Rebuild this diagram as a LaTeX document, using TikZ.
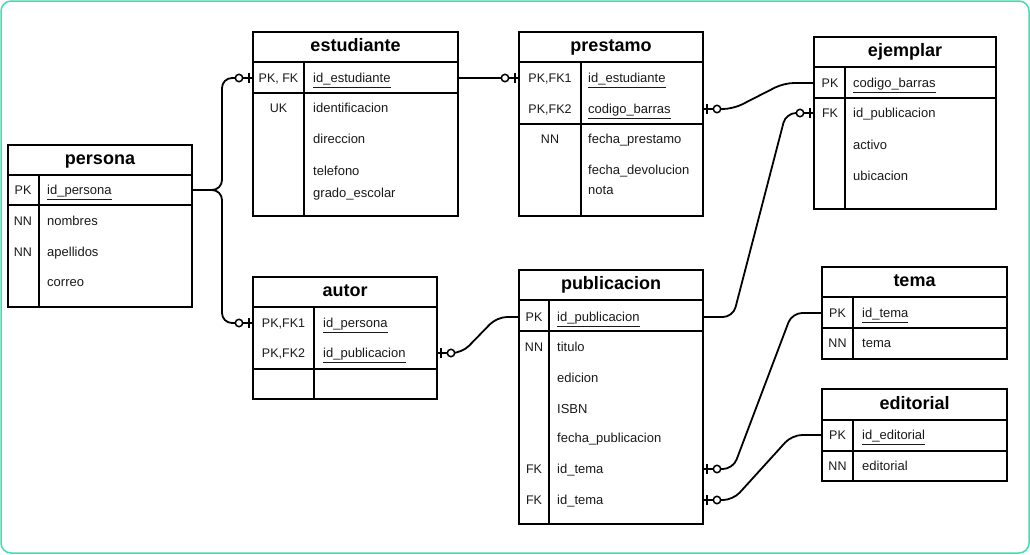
\documentclass[tikz,border=0pt]{standalone}
\usepackage{fontspec}
\setmainfont{Liberation Sans}
\usepackage{tikz}
\usetikzlibrary{positioning, calc, decorations.markings}
\definecolor{framegreen}{RGB}{64,222,176}
\definecolor{ink}{RGB}{25,25,25}
\newcommand{\pkey}[1]{\underline{#1}}
\tikzstyle{tbl} = [rectangle, draw=black, line width=1.8pt, anchor=north west, inner sep=0pt, outer sep=0pt]
\tikzstyle{tline} = [draw=black, line width=1.8pt]
\tikzstyle{tblname} = [font=\fontsize{18}{20}\selectfont\bfseries, inner sep=0pt, text height=1.17em, text depth=0.21em]
\tikzstyle{keycol} = [font=\fontsize{12.5}{14}\selectfont, inner sep=0pt, text=ink, text height=1.19em, text depth=0.21em]
\tikzstyle{attr} = [font=\fontsize{13}{15}\selectfont, anchor=west, inner sep=0pt, text=ink, text height=1.18em, text depth=0.21em]
\tikzstyle{rel} = [line width=1.8pt, rounded corners=10pt]
\tikzstyle{zo end} = [postaction={decorate, decoration={markings,
  mark=at position -4pt with {\draw[line width=1.7pt] (0,-5pt) -- (0,5pt);},
  mark=at position -14pt with {\draw[line width=1.5pt, fill=white] (0,0) circle (3.7pt);}}}]
\tikzstyle{zo start} = [postaction={decorate, decoration={markings,
  mark=at position 4pt with {\draw[line width=1.7pt] (0,-5pt) -- (0,5pt);},
  mark=at position 14pt with {\draw[line width=1.5pt, fill=white] (0,0) circle (3.7pt);}}}]

\begin{document}
\begin{tikzpicture}[x=1pt, y=-1pt]
  \useasboundingbox (0,0) rectangle (1030,554);
  \draw[framegreen, line width=1.5pt, rounded corners=10pt] (1,1) rectangle (1029,553);

  % persona
  \node (persona) [tbl, minimum width=184, minimum height=162] at (8,145) {};
  \node (persona-name) [tblname] at (100,160) {persona};
  \draw[tline] (8,175) -- (192,175);
  \draw[tline] (8,205) -- (192,205);
  \draw[tline] (39,175) -- (39,307);
  \node (persona-k1) [keycol] at (23,190) {PK};
  \node (persona-id) [attr] at (47,190) {\pkey{id\_persona}};
  \node (persona-k2) [keycol] at (23,221) {NN};
  \node (persona-nom) [attr] at (47,221) {nombres};
  \node (persona-k3) [keycol] at (23,252) {NN};
  \node (persona-ape) [attr] at (47,252) {apellidos};
  \node (persona-cor) [attr] at (47,282) {correo};

  % estudiante
  \node (estudiante) [tbl, minimum width=205, minimum height=184] at (253,32) {};
  \node (estudiante-name) [tblname] at (355.5,47) {estudiante};
  \draw[tline] (253,62) -- (458,62);
  \draw[tline] (253,93) -- (458,93);
  \draw[tline] (304,62) -- (304,216);
  \node (estudiante-k1) [keycol] at (278.5,78) {PK, FK};
  \node (estudiante-id) [attr] at (313,78) {\pkey{id\_estudiante}};
  \node (estudiante-k2) [keycol] at (278.5,108) {UK};
  \node (estudiante-ide) [attr] at (313,108) {identificacion};
  \node (estudiante-dir) [attr] at (313,139) {direccion};
  \node (estudiante-tel) [attr] at (313,171) {telefono};
  \node (estudiante-gra) [attr] at (313,193) {grado\_escolar};

  % prestamo
  \node (prestamo) [tbl, minimum width=184, minimum height=184] at (519,32) {};
  \node (prestamo-name) [tblname] at (611,47) {prestamo};
  \draw[tline] (519,62) -- (703,62);
  \draw[tline] (519,124) -- (703,124);
  \draw[tline] (581,62) -- (581,216);
  \node (prestamo-k1) [keycol] at (550,78) {PK,FK1};
  \node (prestamo-est) [attr] at (588,78) {\pkey{id\_estudiante}};
  \node (prestamo-k2) [keycol] at (550,109) {PK,FK2};
  \node (prestamo-cod) [attr] at (588,109) {\pkey{codigo\_barras}};
  \node (prestamo-k3) [keycol] at (550,139) {NN};
  \node (prestamo-fpr) [attr] at (588,139) {fecha\_prestamo};
  \node (prestamo-fde) [attr] at (588,170) {fecha\_devolucion};
  \node (prestamo-not) [attr] at (588,190) {nota};

  % ejemplar
  \node (ejemplar) [tbl, minimum width=182, minimum height=172] at (814,37) {};
  \node (ejemplar-name) [tblname] at (905,52) {ejemplar};
  \draw[tline] (814,67) -- (996,67);
  \draw[tline] (814,98) -- (996,98);
  \draw[tline] (845,67) -- (845,209);
  \node (ejemplar-k1) [keycol] at (830,83) {PK};
  \node (ejemplar-cod) [attr] at (853,83) {\pkey{codigo\_barras}};
  \node (ejemplar-k2) [keycol] at (830,113) {FK};
  \node (ejemplar-pub) [attr] at (853,113) {id\_publicacion};
  \node (ejemplar-act) [attr] at (853,145) {activo};
  \node (ejemplar-ubi) [attr] at (853,176) {ubicacion};

  % autor
  \node (autor) [tbl, minimum width=184, minimum height=122] at (253,277) {};
  \node (autor-name) [tblname] at (345,292) {autor};
  \draw[tline] (253,307) -- (437,307);
  \draw[tline] (253,369) -- (437,369);
  \draw[tline] (314,307) -- (314,399);
  \node (autor-k1) [keycol] at (283.5,323) {PK,FK1};
  \node (autor-per) [attr] at (323,323) {\pkey{id\_persona}};
  \node (autor-k2) [keycol] at (283.5,353) {PK,FK2};
  \node (autor-pub) [attr] at (323,353) {\pkey{id\_publicacion}};

  % publicacion
  \node (publicacion) [tbl, minimum width=184, minimum height=254] at (519,270) {};
  \node (publicacion-name) [tblname] at (611,285) {publicacion};
  \draw[tline] (519,300) -- (703,300);
  \draw[tline] (519,331) -- (703,331);
  \draw[tline] (549,300) -- (549,524);
  \node (publicacion-k1) [keycol] at (534,317) {PK};
  \node (publicacion-id) [attr] at (557,317) {\pkey{id\_publicacion}};
  \node (publicacion-k2) [keycol] at (534,347) {NN};
  \node (publicacion-tit) [attr] at (557,347) {titulo};
  \node (publicacion-edi) [attr] at (557,378) {edicion};
  \node (publicacion-isbn) [attr] at (557,409) {ISBN};
  \node (publicacion-fec) [attr] at (557,438) {fecha\_publicacion};
  \node (publicacion-k3) [keycol] at (534,469) {FK};
  \node (publicacion-tema1) [attr] at (557,469) {id\_tema};
  \node (publicacion-k4) [keycol] at (534,500) {FK};
  \node (publicacion-tema2) [attr] at (557,500) {id\_tema};

  % tema
  \node (tema) [tbl, minimum width=185, minimum height=92] at (822,267) {};
  \node (tema-name) [tblname] at (914.5,282) {tema};
  \draw[tline] (822,297) -- (1007,297);
  \draw[tline] (822,328) -- (1007,328);
  \draw[tline] (853,297) -- (853,359);
  \node (tema-k1) [keycol] at (837.5,313) {PK};
  \node (tema-id) [attr] at (862,313) {\pkey{id\_tema}};
  \node (tema-k2) [keycol] at (837.5,343) {NN};
  \node (tema-tem) [attr] at (862,343) {tema};

  % editorial
  \node (editorial) [tbl, minimum width=185, minimum height=92] at (822,389) {};
  \node (editorial-name) [tblname] at (914.5,405) {editorial};
  \draw[tline] (822,420) -- (1007,420);
  \draw[tline] (822,451) -- (1007,451);
  \draw[tline] (853,420) -- (853,481);
  \node (editorial-k1) [keycol] at (837.5,435) {PK};
  \node (editorial-id) [attr] at (862,435) {\pkey{id\_editorial}};
  \node (editorial-k2) [keycol] at (837.5,466) {NN};
  \node (editorial-edi) [attr] at (862,466) {editorial};

  % relations
  \draw[rel, zo end] (persona.east |- persona-k1) -| ([xshift=-31]estudiante.west |- estudiante-k1) -- (estudiante.west |- estudiante-k1);
  \draw[rel, zo end] (persona.east |- persona-k1) -| ([xshift=-31]autor.west |- autor-k1) -- (autor.west |- autor-k1);
  \draw[rel, zo end] (estudiante.east |- estudiante-k1) -- (prestamo.west |- prestamo-k1);
  \draw[rel, zo start] (prestamo.east |- prestamo-k2) -- ++(30,0) -- ([xshift=-30]ejemplar.west |- ejemplar-k1) -- (ejemplar.west |- ejemplar-k1);
  \draw[rel, zo end] (publicacion.east |- publicacion-k1) -- ++(30,0) -- ([xshift=-28]ejemplar.west |- ejemplar-k2) -- (ejemplar.west |- ejemplar-k2);
  \draw[rel, zo start] (autor.east |- autor-k2) -- ++(25,0) -- ([xshift=-22]publicacion.west |- publicacion-k1) -- (publicacion.west |- publicacion-k1);
  \draw[rel, zo start] (publicacion.east |- publicacion-k3) -- ++(30,0) -- ([xshift=-30]tema.west |- tema-k1) -- (tema.west |- tema-k1);
  \draw[rel, zo start] (publicacion.east |- publicacion-k4) -- ++(30,0) -- ([xshift=-30]editorial.west |- editorial-k1) -- (editorial.west |- editorial-k1);
\end{tikzpicture}
\end{document}
